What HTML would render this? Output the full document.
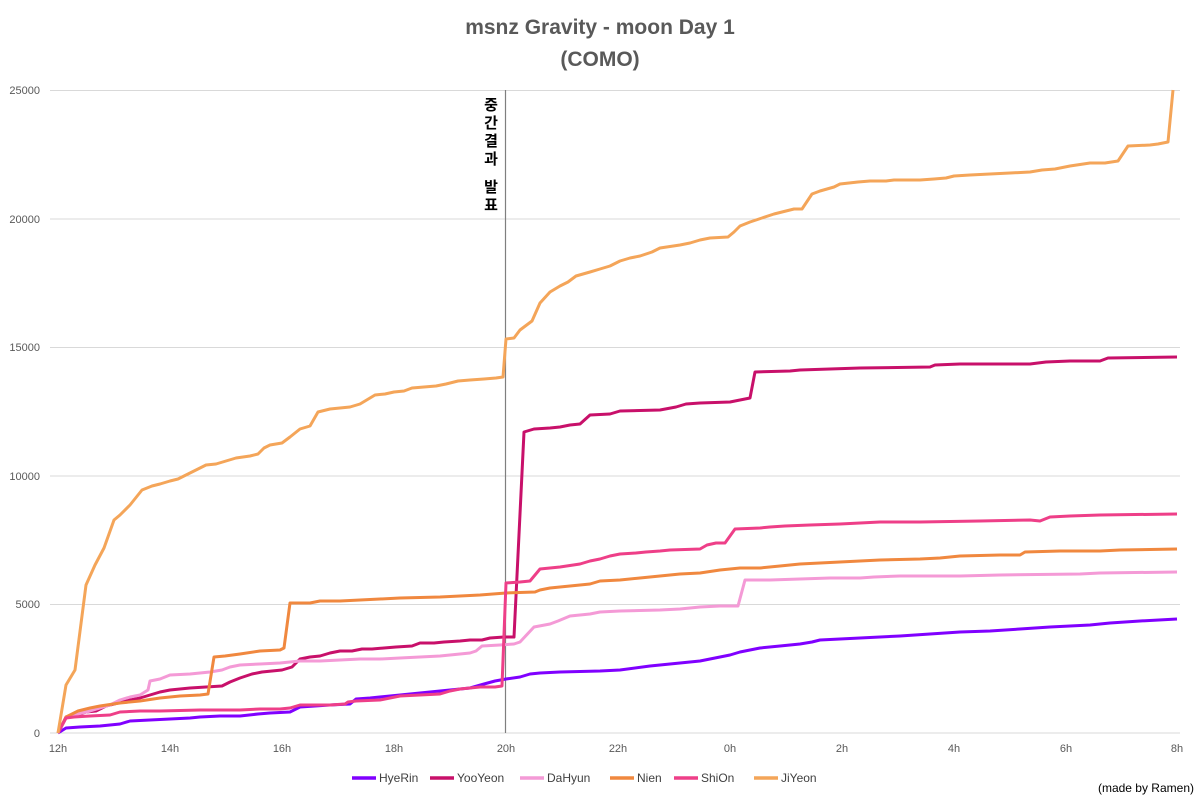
<!DOCTYPE html>
<html><head><meta charset="utf-8"><style>
body{margin:0;background:#fff;width:1200px;height:800px;overflow:hidden}
svg text{font-family:"Liberation Sans","Noto Sans CJK KR",sans-serif}
</style></head><body>
<svg width="1200" height="800" viewBox="0 0 1200 800">
<text x="600" y="34" text-anchor="middle" font-size="21" font-weight="bold" fill="#595959">msnz Gravity - moon Day 1</text>
<text x="600" y="66" text-anchor="middle" font-size="21" font-weight="bold" fill="#595959">(COMO)</text>
<g stroke="#d9d9d9" stroke-width="1">
<line x1="50" x2="1180" y1="90.5" y2="90.5"/><line x1="50" x2="1180" y1="219" y2="219"/>
<line x1="50" x2="1180" y1="347.5" y2="347.5"/><line x1="50" x2="1180" y1="476" y2="476"/>
<line x1="50" x2="1180" y1="604.5" y2="604.5"/><line x1="50" x2="1180" y1="733" y2="733"/>
</g>
<g font-size="11" fill="#595959" text-anchor="end">
<text x="40" y="94">25000</text><text x="40" y="223">20000</text><text x="40" y="351">15000</text>
<text x="40" y="480">10000</text><text x="40" y="608">5000</text><text x="40" y="737">0</text>
</g>
<g font-size="11" fill="#595959" text-anchor="middle">
<text x="58" y="752">12h</text><text x="170" y="752">14h</text><text x="282" y="752">16h</text>
<text x="394" y="752">18h</text><text x="506" y="752">20h</text><text x="618" y="752">22h</text>
<text x="730" y="752">0h</text><text x="842" y="752">2h</text><text x="954" y="752">4h</text>
<text x="1066" y="752">6h</text><text x="1177" y="752">8h</text>
</g>
<line x1="505.5" x2="505.5" y1="90" y2="733" stroke="#7f7f7f" stroke-width="1.2"/>
<g font-size="15" font-weight="bold" fill="#000" text-anchor="middle">
<text x="491" y="110">중</text><text x="491" y="128">간</text><text x="491" y="146">결</text><text x="491" y="164">과</text>
<text x="491" y="192">발</text><text x="491" y="210">표</text>
</g>
<g fill="none" stroke-width="3" stroke-linejoin="round">
<polyline stroke="#8000ff" points="58,733 66,728 80,727 100,726 120,724 130,721 150,720 170,719 190,718 200,717 220,716 240,716 258,714 270,713 290,712 300,707 330,705 350,704 356,699 370,698 390,696 410,694 430,692 450,690 470,688 484,684 495,681 506,679 520,677 530,674 540,673 560,672 600,671 620,670 650,666 680,663 700,661 720,657 730,655 740,652 750,650 760,648 780,646 800,644 812,642 820,640 840,639 860,638 900,636 930,634 960,632 990,631 1020,629 1050,627 1090,625 1110,623 1140,621 1177,619"/>
<polyline stroke="#c8106a" points="58,733 66,717 78,715 86,712 96,711 106,706 118,703 130,700 140,698 150,695 160,692 170,690 190,688 206,687 222,686 230,682 240,678 252,674 262,672 282,670 292,667 300,659 310,657 320,656 330,653 340,651 352,651 362,649 372,649 384,648 396,647 412,646 420,643 434,643 444,642 460,641 470,640 482,640 490,638 504,637 514,637 524,432 534,429 550,428 560,427 570,425 580,424 590,415 610,414 620,411 660,410 676,407 686,404 700,403 730,402 750,398 755,372 790,371 800,370 830,369 860,368 930,367 935,365 960,364 1030,364 1046,362 1070,361 1100,361 1108,358 1177,357"/>
<polyline stroke="#f49ad6" points="58,733 66,718 78,714 90,711 100,708 110,705 120,700 130,697 140,695 148,690 150,681 160,679 170,675 190,674 200,673 210,672 222,670 230,667 240,665 260,664 280,663 300,661 320,661 340,660 360,659 380,659 400,658 420,657 440,656 460,654 470,653 476,651 482,646 500,645 514,644 520,642 534,627 550,624 558,621 570,616 590,614 600,612 620,611 660,610 680,609 700,607 720,606 738,606 745,580 770,580 800,579 830,578 860,578 874,577 900,576 960,576 1000,575 1080,574 1100,573 1177,572"/>
<polyline stroke="#f0883f" points="58,733 66,717 78,711 90,708 100,706 120,703 140,701 160,698 180,696 200,695 208,694 214,657 225,656 240,654 260,651 280,650 284,648 290,603 310,603 320,601 340,601 360,600 380,599 400,598 440,597 460,596 480,595 506,593 535,592 540,590 550,588 570,586 590,584 600,581 620,580 640,578 660,576 680,574 700,573 720,570 740,568 760,568 780,566 800,564 840,562 860,561 880,560 920,559 940,558 960,556 1000,555 1020,555 1025,552 1060,551 1100,551 1120,550 1177,549"/>
<polyline stroke="#ee3f88" points="58,733 66,718 74,717 90,716 110,715 120,712 140,711 160,711 200,710 240,710 260,709 280,709 290,708 300,705 330,705 345,704 348,702 356,701 380,700 390,698 400,696 420,695 440,694 450,691 460,689 470,688 480,687 495,687 502,686 506,583 520,582 530,581 540,569 560,567 580,564 590,561 600,559 610,556 620,554 636,553 646,552 660,551 670,550 700,549 707,545 716,543 725,543 730,536 735,529 760,528 770,527 785,526 810,525 840,524 860,523 880,522 920,522 980,521 1030,520 1040,521 1050,517 1070,516 1100,515 1177,514"/>
<polyline stroke="#f4a559" points="58,733 66,685 75,670 86,585 95,565 104,548 114,520 120,515 130,505 142,490 152,486 160,484 170,481 178,479 186,475 196,470 206,465 216,464 226,461 236,458 250,456 258,454 264,448 270,445 282,443 290,437 300,429 310,426 318,412 330,409 350,407 360,404 370,398 375,395 385,394 394,392 404,391 412,388 424,387 436,386 446,384 458,381 470,380 484,379 496,378 503,377 506,339 514,338 520,330 532,321 540,303 550,292 560,286 568,282 576,276 590,272 600,269 610,266 620,261 630,258 640,256 652,252 660,248 680,245 690,243 700,240 710,238 728,237 734,232 740,226 750,222 762,218 774,214 786,211 794,209 802,209 812,194 820,191 834,187 840,184 858,182 870,181 886,181 894,180 920,180 934,179 946,178 954,176 970,175 990,174 1010,173 1030,172 1042,170 1055,169 1070,166 1090,163 1105,163 1118,161 1128,146 1150,145 1158,144 1168,142 1173,90"/>
</g>
<g font-size="12" fill="#404040" stroke-width="3.5">
<line x1="352" x2="376" y1="778" y2="778" stroke="#8000ff"/><text x="379" y="782">HyeRin</text>
<line x1="430" x2="454" y1="778" y2="778" stroke="#c8106a"/><text x="457" y="782">YooYeon</text>
<line x1="520" x2="544" y1="778" y2="778" stroke="#f49ad6"/><text x="547" y="782">DaHyun</text>
<line x1="610" x2="634" y1="778" y2="778" stroke="#f0883f"/><text x="637" y="782">Nien</text>
<line x1="674" x2="698" y1="778" y2="778" stroke="#ee3f88"/><text x="701" y="782">ShiOn</text>
<line x1="754" x2="778" y1="778" y2="778" stroke="#f4a559"/><text x="781" y="782">JiYeon</text>
</g>
<text x="1194" y="792" text-anchor="end" font-size="12" fill="#000">(made by Ramen)</text>
</svg>
</body></html>
